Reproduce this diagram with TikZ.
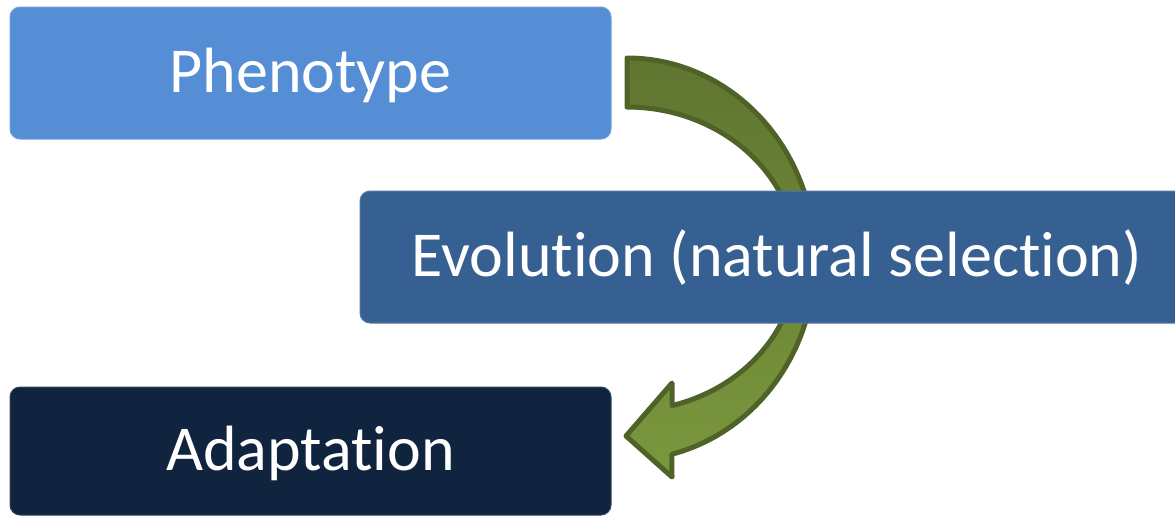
\documentclass[tikz,border=0pt]{standalone}
\usepackage{fontspec}
\setmainfont{Carlito}[Ligatures={NoCommon,NoContextual}]
\definecolor{phblue}{HTML}{558ED5}
\definecolor{evblue}{HTML}{376092}
\definecolor{adnavy}{HTML}{10243F}
\definecolor{arrtop}{HTML}{607530}
\definecolor{arrbot}{HTML}{7A983E}
\definecolor{arrline}{HTML}{4F6228}
\tikzset{
  stagebox/.style={rectangle, rounded corners=10pt, inner sep=0pt, text=white,
    font=\fontsize{64}{70}\selectfont, text height=45pt, text depth=7pt,
    line width=1pt},
}
\begin{document}
\begin{tikzpicture}[x=1pt,y=-1pt]
\useasboundingbox (0,0) rectangle (1175,515);
\clip (0,0) rectangle (1175,515);
\node[stagebox, fill=phblue, draw=phblue!85!white, minimum width=601pt, minimum height=132pt] (ph) at (310.5,73) {Phenotype};
\node[stagebox, fill=adnavy, draw=adnavy!85!white, minimum width=601pt, minimum height=128pt] (ad) at (310.5,451) {Adaptation};
% curved arrow (behind the middle box)
\path[shade, top color=arrtop, bottom color=arrbot, draw=arrline, line width=5pt, line join=round]
  (627,58) arc[start angle=-90, end angle=76.2, x radius=188, y radius=201]
  -- (672,477) -- (626,436) -- (672,383) -- (672,405.6)
  arc[start angle=74.65, end angle=-90, x radius=170, y radius=152] -- cycle;
\node[stagebox, fill=evblue, draw=evblue!85!white, minimum width=834pt, minimum height=132pt] (ev) at (777,257) {Evolution (natural selection)};
\end{tikzpicture}
\end{document}
